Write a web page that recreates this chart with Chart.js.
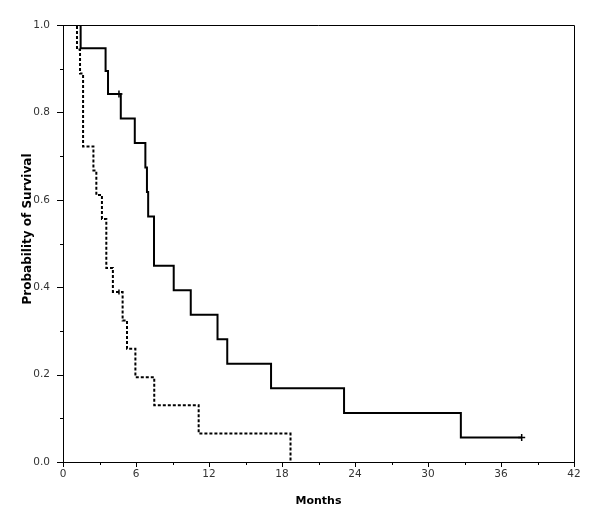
<!DOCTYPE html>
<html><head><meta charset="utf-8">
<script src="https://cdn.jsdelivr.net/npm/chart.js@4.4.1/dist/chart.umd.min.js"></script>
<style>html,body{margin:0;padding:0;background:#fff}#wrap{width:600px;height:517px}</style>
</head><body><div id="wrap"><canvas id="c" width="600" height="517"></canvas></div>
<script>
// Group 1 (solid)
const solidTimes = [0, 1.45, 3.5, 3.7, 4.75, 5.9, 6.77, 6.9, 7.0, 7.48, 9.1, 10.5, 12.7, 13.5, 17.1, 23.1, 32.7, 37.7];
const solidSurv  = [1.0, 0.947, 0.895, 0.842, 0.786, 0.730, 0.674, 0.618, 0.562, 0.449, 0.393, 0.337, 0.281, 0.225, 0.169, 0.112, 0.056, 0.056];
const solidCensorTimes = [4.6, 37.7];
const solidCensorSurv  = [0.842, 0.056];
// Group 2 (dashed)
const dashTimes = [0, 1.15, 1.4, 1.65, 2.5, 2.74, 3.2, 3.56, 4.1, 4.9, 5.26, 5.95, 7.5, 11.15, 18.7];
const dashSurv  = [1.0, 0.944, 0.889, 0.722, 0.667, 0.611, 0.556, 0.444, 0.389, 0.324, 0.259, 0.194, 0.130, 0.065, 0.0];
const dashCensorTimes = [4.6];
const dashCensorSurv  = [0.389];
// Axes
const xTicks = [0, 6, 12, 18, 24, 30, 36, 42];
const yTicks = [0.0, 0.2, 0.4, 0.6, 0.8, 1.0];
const xTitle = 'Months';
const yTitle = 'Probability of Survival';

const pts = (xs, ys) => xs.map((x, i) => ({x: x, y: ys[i]}));
const FONT = '"DejaVu Sans", sans-serif';

const framePlugin = {
  id: 'frame',
  afterDraw(chart) {
    const {ctx, chartArea: a, scales} = chart;
    const xs = scales.x, ys = scales.y;
    ctx.save();
    ctx.strokeStyle = '#000';
    ctx.lineWidth = 1;
    ctx.beginPath();
    ctx.moveTo(a.left, a.top + 0.5); ctx.lineTo(a.right + 0.5, a.top + 0.5);
    ctx.lineTo(a.right + 0.5, a.bottom + 5);
    ctx.stroke();
    ctx.beginPath();
    for (let v = 0; v <= 42; v += 3) {
      const px = Math.round(xs.getPixelForValue(v)) + 0.5;
      const len = (v % 6 === 0) ? 5 : 3;
      ctx.moveTo(px, a.bottom); ctx.lineTo(px, a.bottom + len);
    }
    for (let k = 0; k <= 10; k++) {
      const py = Math.round(ys.getPixelForValue(k / 10)) + 0.5;
      const len = (k % 2 === 0) ? 6 : 3;
      ctx.moveTo(a.left, py); ctx.lineTo(a.left - len, py);
    }
    ctx.stroke();
    ctx.fillStyle = '#000';
    ctx.font = 'bold 12px ' + FONT;
    ctx.textAlign = 'center';
    ctx.textBaseline = 'middle';
    ctx.translate(28, 229);
    ctx.rotate(-Math.PI / 2);
    ctx.fillText(yTitle, 0, 0);
    ctx.restore();
  }
};

new Chart(document.getElementById('c'), {
  type: 'scatter',
  data: {
    datasets: [
      {data: pts(solidTimes, solidSurv), showLine: true, stepped: 'before', borderColor: '#000', borderWidth: 2, pointRadius: 0, fill: false},
      {data: pts(dashTimes, dashSurv), showLine: true, stepped: 'before', borderColor: '#000', borderWidth: 2, borderDash: [3, 2], pointRadius: 0, fill: false},
      {data: pts(solidCensorTimes, solidCensorSurv), showLine: false, pointStyle: 'cross', pointRadius: 3.5, borderColor: '#000', borderWidth: 1.5},
      {data: pts(dashCensorTimes, dashCensorSurv), showLine: false, pointStyle: 'line', rotation: 90, pointRadius: 2.5, borderColor: '#000', borderWidth: 1.5}
    ]
  },
  options: {
    responsive: false,
    animation: false,
    devicePixelRatio: 1,
    layout: {padding: {left: 0, top: 25, right: 26, bottom: 0}},
    plugins: {legend: {display: false}, tooltip: {enabled: false}},
    scales: {
      x: {
        type: 'linear', min: 0, max: 42,
        afterBuildTicks: s => { s.ticks = xTicks.map(v => ({value: v})); },
        afterFit: s => { s.height = 55; },
        grid: {drawOnChartArea: false, drawTicks: true, tickLength: 5, color: 'rgba(0,0,0,0)'},
        border: {display: true, color: '#000', width: 1},
        ticks: {padding: 1, color: '#333', font: {family: FONT, size: 10.5}, maxRotation: 0},
        title: {display: true, text: xTitle, color: '#000', font: {family: FONT, size: 11, weight: 'bold'}, padding: {top: 6, bottom: 9}}
      },
      y: {
        type: 'linear', min: 0, max: 1,
        afterBuildTicks: s => { s.ticks = yTicks.map(v => ({value: v})); },
        afterFit: s => { s.width = 63; },
        grid: {drawOnChartArea: false, drawTicks: true, tickLength: 6, color: 'rgba(0,0,0,0)'},
        border: {display: true, color: '#000', width: 1},
        ticks: {padding: 7, color: '#333', font: {family: FONT, size: 10.5}, callback: v => Number(v).toFixed(1)}
      }
    }
  },
  plugins: [framePlugin]
});
</script></body></html>
